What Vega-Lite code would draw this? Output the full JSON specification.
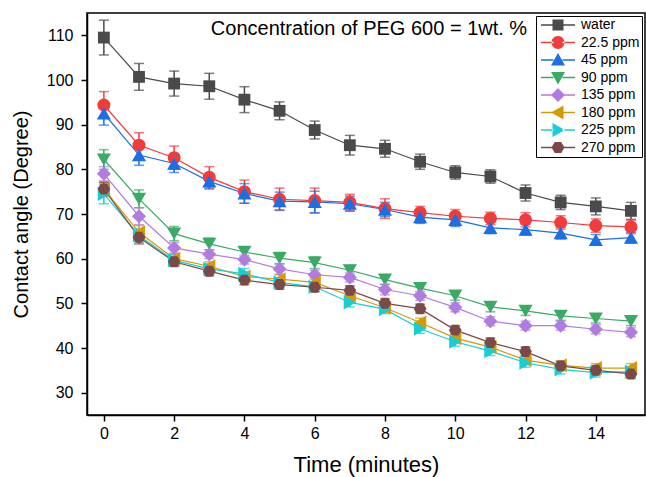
{
  "$schema": "https://vega.github.io/schema/vega-lite/v6.json",
  "width": 558,
  "height": 402,
  "autosize": {"type": "none"},
  "padding": {"left": 87, "top": 13, "right": 1, "bottom": 62},
  "background": "white",
  "title": {"text": "Concentration of PEG 600 = 1wt. %", "anchor": "middle", "orient": "top", "frame": "group", "offset": 0, "baseline": "alphabetic", "dy": 42, "dx": 3, "fontSize": 20, "fontWeight": "normal", "font": "Liberation Sans", "color": "black"},
  "data": {"values": [
    {"series":"water","t":0,"v":109.5,"e":3.9},{"series":"water","t":1,"v":100.7,"e":3.0},{"series":"water","t":2,"v":99.2,"e":2.8},{"series":"water","t":3,"v":98.6,"e":2.9},
    {"series":"water","t":4,"v":95.6,"e":2.9},{"series":"water","t":5,"v":93.1,"e":2.0},{"series":"water","t":6,"v":88.8,"e":2.0},{"series":"water","t":7,"v":85.4,"e":2.2},
    {"series":"water","t":8,"v":84.6,"e":1.9},{"series":"water","t":9,"v":81.7,"e":1.7},{"series":"water","t":10,"v":79.3,"e":1.5},{"series":"water","t":11,"v":78.4,"e":1.5},
    {"series":"water","t":12,"v":74.7,"e":1.8},{"series":"water","t":13,"v":72.6,"e":1.6},{"series":"water","t":14,"v":71.7,"e":1.9},{"series":"water","t":15,"v":70.7,"e":1.9},
    {"series":"22.5 ppm","t":0,"v":94.4,"e":3.0},{"series":"22.5 ppm","t":1,"v":85.4,"e":2.8},{"series":"22.5 ppm","t":2,"v":82.6,"e":2.6},{"series":"22.5 ppm","t":3,"v":78.2,"e":2.4},
    {"series":"22.5 ppm","t":4,"v":75.0,"e":2.6},{"series":"22.5 ppm","t":5,"v":73.3,"e":2.5},{"series":"22.5 ppm","t":6,"v":73.0,"e":2.8},{"series":"22.5 ppm","t":7,"v":72.6,"e":1.8},
    {"series":"22.5 ppm","t":8,"v":71.2,"e":2.2},{"series":"22.5 ppm","t":9,"v":70.3,"e":1.4},{"series":"22.5 ppm","t":10,"v":69.5,"e":1.5},{"series":"22.5 ppm","t":11,"v":69.0,"e":1.4},
    {"series":"22.5 ppm","t":12,"v":68.7,"e":1.6},{"series":"22.5 ppm","t":13,"v":68.1,"e":1.5},{"series":"22.5 ppm","t":14,"v":67.4,"e":1.5},{"series":"22.5 ppm","t":15,"v":67.1,"e":1.5},
    {"series":"45 ppm","t":0,"v":92.5,"e":2.6},{"series":"45 ppm","t":1,"v":83.2,"e":2.3},{"series":"45 ppm","t":2,"v":81.3,"e":2.0},{"series":"45 ppm","t":3,"v":77.3,"e":1.7},
    {"series":"45 ppm","t":4,"v":74.6,"e":2.2},{"series":"45 ppm","t":5,"v":72.9,"e":2.0},{"series":"45 ppm","t":6,"v":72.7,"e":2.4},{"series":"45 ppm","t":7,"v":72.3,"e":1.7},
    {"series":"45 ppm","t":8,"v":71.0,"e":1.6},{"series":"45 ppm","t":9,"v":69.3,"e":1.4},{"series":"45 ppm","t":10,"v":68.7,"e":1.5},{"series":"45 ppm","t":11,"v":66.9,"e":1.3},
    {"series":"45 ppm","t":12,"v":66.5,"e":1.2},{"series":"45 ppm","t":13,"v":65.7,"e":1.3},{"series":"45 ppm","t":14,"v":64.2,"e":1.2},{"series":"45 ppm","t":15,"v":64.7,"e":1.2},
    {"series":"90 ppm","t":0,"v":82.2,"e":2.2},{"series":"90 ppm","t":1,"v":73.4,"e":2.0},{"series":"90 ppm","t":2,"v":65.6,"e":1.6},{"series":"90 ppm","t":3,"v":63.3,"e":1.3},
    {"series":"90 ppm","t":4,"v":61.5,"e":1.1},{"series":"90 ppm","t":5,"v":60.1,"e":1.3},{"series":"90 ppm","t":6,"v":59.1,"e":1.3},{"series":"90 ppm","t":7,"v":57.4,"e":1.1},
    {"series":"90 ppm","t":8,"v":55.3,"e":1.1},{"series":"90 ppm","t":9,"v":53.4,"e":1.2},{"series":"90 ppm","t":10,"v":51.7,"e":1.0},{"series":"90 ppm","t":11,"v":49.2,"e":1.1},
    {"series":"90 ppm","t":12,"v":48.3,"e":1.0},{"series":"90 ppm","t":13,"v":47.2,"e":1.0},{"series":"90 ppm","t":14,"v":46.6,"e":1.0},{"series":"90 ppm","t":15,"v":46.0,"e":1.0},
    {"series":"135 ppm","t":0,"v":79.0,"e":1.6},{"series":"135 ppm","t":1,"v":69.5,"e":1.9},{"series":"135 ppm","t":2,"v":62.4,"e":1.2},{"series":"135 ppm","t":3,"v":61.0,"e":1.0},
    {"series":"135 ppm","t":4,"v":59.8,"e":1.0},{"series":"135 ppm","t":5,"v":57.7,"e":1.2},{"series":"135 ppm","t":6,"v":56.4,"e":1.0},{"series":"135 ppm","t":7,"v":55.8,"e":1.0},
    {"series":"135 ppm","t":8,"v":53.1,"e":1.2},{"series":"135 ppm","t":9,"v":51.7,"e":1.0},{"series":"135 ppm","t":10,"v":49.1,"e":1.0},{"series":"135 ppm","t":11,"v":46.0,"e":1.0},
    {"series":"135 ppm","t":12,"v":45.0,"e":1.0},{"series":"135 ppm","t":13,"v":45.0,"e":1.0},{"series":"135 ppm","t":14,"v":44.2,"e":1.0},{"series":"135 ppm","t":15,"v":43.5,"e":1.0},
    {"series":"180 ppm","t":0,"v":75.6,"e":1.5},{"series":"180 ppm","t":1,"v":65.9,"e":1.5},{"series":"180 ppm","t":2,"v":60.0,"e":1.0},{"series":"180 ppm","t":3,"v":58.3,"e":1.0},
    {"series":"180 ppm","t":4,"v":56.0,"e":1.0},{"series":"180 ppm","t":5,"v":55.4,"e":1.0},{"series":"180 ppm","t":6,"v":54.7,"e":1.0},{"series":"180 ppm","t":7,"v":51.7,"e":1.0},
    {"series":"180 ppm","t":8,"v":49.0,"e":1.0},{"series":"180 ppm","t":9,"v":45.7,"e":1.0},{"series":"180 ppm","t":10,"v":42.2,"e":1.0},{"series":"180 ppm","t":11,"v":40.2,"e":1.0},
    {"series":"180 ppm","t":12,"v":37.3,"e":1.0},{"series":"180 ppm","t":13,"v":36.1,"e":1.0},{"series":"180 ppm","t":14,"v":35.5,"e":1.0},{"series":"180 ppm","t":15,"v":35.5,"e":1.0},
    {"series":"225 ppm","t":0,"v":74.5,"e":2.2},{"series":"225 ppm","t":1,"v":65.2,"e":1.5},{"series":"225 ppm","t":2,"v":59.6,"e":1.3},{"series":"225 ppm","t":3,"v":57.7,"e":1.2},
    {"series":"225 ppm","t":4,"v":56.6,"e":1.2},{"series":"225 ppm","t":5,"v":54.7,"e":1.0},{"series":"225 ppm","t":6,"v":53.7,"e":1.0},{"series":"225 ppm","t":7,"v":50.2,"e":1.0},
    {"series":"225 ppm","t":8,"v":48.7,"e":1.0},{"series":"225 ppm","t":9,"v":44.3,"e":1.0},{"series":"225 ppm","t":10,"v":41.4,"e":1.0},{"series":"225 ppm","t":11,"v":39.3,"e":1.0},
    {"series":"225 ppm","t":12,"v":36.7,"e":1.0},{"series":"225 ppm","t":13,"v":35.2,"e":1.0},{"series":"225 ppm","t":14,"v":34.5,"e":1.0},{"series":"225 ppm","t":15,"v":34.7,"e":1.0},
    {"series":"270 ppm","t":0,"v":75.6,"e":1.5},{"series":"270 ppm","t":1,"v":64.8,"e":1.5},{"series":"270 ppm","t":2,"v":59.3,"e":1.0},{"series":"270 ppm","t":3,"v":57.2,"e":1.0},
    {"series":"270 ppm","t":4,"v":55.2,"e":1.0},{"series":"270 ppm","t":5,"v":54.2,"e":1.0},{"series":"270 ppm","t":6,"v":53.6,"e":1.0},{"series":"270 ppm","t":7,"v":52.9,"e":1.0},
    {"series":"270 ppm","t":8,"v":50.0,"e":1.0},{"series":"270 ppm","t":9,"v":48.8,"e":1.0},{"series":"270 ppm","t":10,"v":44.0,"e":1.0},{"series":"270 ppm","t":11,"v":41.2,"e":1.0},
    {"series":"270 ppm","t":12,"v":39.2,"e":1.0},{"series":"270 ppm","t":13,"v":36.0,"e":1.0},{"series":"270 ppm","t":14,"v":35.0,"e":1.0},{"series":"270 ppm","t":15,"v":34.2,"e":1.0}
  ]},
  "encoding": {
    "x": {"field": "t", "type": "quantitative", "scale": {"domain": [-0.48, 15.4], "nice": false, "zero": false},
      "axis": {"values": [0, 2, 4, 6, 8, 10, 12, 14], "title": "Time (minutes)", "titlePadding": 13, "titleFontSize": 22, "labelPadding": 4}},
    "y": {"field": "v", "type": "quantitative", "scale": {"domain": [25, 115], "nice": false, "zero": false},
      "axis": {"values": [30, 40, 50, 60, 70, 80, 90, 100, 110], "title": "Contact angle (Degree)", "titlePadding": 15, "titleFontSize": 20, "labelPadding": 8}}
  },
  "layer": [
    {"mark": {"type": "line", "strokeWidth": 1.2},
     "encoding": {"color": {"field": "series", "type": "nominal", "legend": null,
       "scale": {"range": ["#b07ce0", "#d49a08", "#f03c3c", "#18cdd6", "#7b4a48", "#1a6ee6", "#3aaa64", "#4a4a4a"]}}}},
    {"mark": {"type": "errorbar", "ticks": {"size": 10}, "thickness": 1.5},
     "encoding": {"yError": {"field": "e"}, "color": {"field": "series", "type": "nominal", "legend": null}}},
    {"transform": [{"filter": {"field": "series", "equal": "water"}}], "mark": {"type": "point", "filled": true, "opacity": 1, "shape": "square", "size": 140}, "encoding": {"color": {"field": "series", "type": "nominal", "legend": null}}},
    {"transform": [{"filter": {"field": "series", "equal": "22.5 ppm"}}], "mark": {"type": "point", "filled": true, "opacity": 1, "shape": "circle", "size": 170}, "encoding": {"color": {"field": "series", "type": "nominal", "legend": null}}},
    {"transform": [{"filter": {"field": "series", "equal": "45 ppm"}}], "mark": {"type": "point", "filled": true, "opacity": 1, "shape": "triangle-up", "size": 200}, "encoding": {"color": {"field": "series", "type": "nominal", "legend": null}}},
    {"transform": [{"filter": {"field": "series", "equal": "90 ppm"}}], "mark": {"type": "point", "filled": true, "opacity": 1, "shape": "triangle-down", "size": 200}, "encoding": {"color": {"field": "series", "type": "nominal", "legend": null}}},
    {"transform": [{"filter": {"field": "series", "equal": "135 ppm"}}], "mark": {"type": "point", "filled": true, "opacity": 1, "shape": "diamond", "size": 200}, "encoding": {"color": {"field": "series", "type": "nominal", "legend": null}}},
    {"transform": [{"filter": {"field": "series", "equal": "180 ppm"}}], "mark": {"type": "point", "filled": true, "opacity": 1, "shape": "triangle-left", "size": 200}, "encoding": {"color": {"field": "series", "type": "nominal", "legend": null}}},
    {"transform": [{"filter": {"field": "series", "equal": "225 ppm"}}], "mark": {"type": "point", "filled": true, "opacity": 1, "shape": "triangle-right", "size": 200}, "encoding": {"color": {"field": "series", "type": "nominal", "legend": null}}},
    {"transform": [{"filter": {"field": "series", "equal": "270 ppm"}}], "mark": {"type": "point", "filled": true, "opacity": 1, "shape": "M-1,0L-0.5,-0.866L0.5,-0.866L1,0L0.5,0.866L-0.5,0.866Z", "size": 160}, "encoding": {"color": {"field": "series", "type": "nominal", "legend": null}}},
    {"transform": [{"filter": {"field": "t", "equal": -1}}],
     "mark": {"type": "point", "filled": true, "opacity": 1},
     "encoding": {
       "fill": {"field": "series", "type": "nominal",
         "scale": {"domain": ["water", "22.5 ppm", "45 ppm", "90 ppm", "135 ppm", "180 ppm", "225 ppm", "270 ppm"],
                   "range": ["#4a4a4a", "#f03c3c", "#1a6ee6", "#3aaa64", "#b07ce0", "#d49a08", "#18cdd6", "#7b4a48"]},
         "legend": {"title": null}},
       "shape": {"field": "series", "type": "nominal",
         "scale": {"domain": ["water", "22.5 ppm", "45 ppm", "90 ppm", "135 ppm", "180 ppm", "225 ppm", "270 ppm"],
                   "range": [
                     "M-0.8,-0.15H1.7V0.15H-0.8ZM3.5,-0.15H6V0.15H3.5ZM1.5,-1.1H3.7V1.1H1.5Z",
                     "M-0.8,-0.15H1.7V0.15H-0.8ZM3.5,-0.15H6V0.15H3.5ZM1.3,0A1.3,1.3 0 1,0 3.9,0A1.3,1.3 0 1,0 1.3,0Z",
                     "M-0.8,-0.15H1.7V0.15H-0.8ZM3.5,-0.15H6V0.15H3.5ZM2.6,-1.4L4,1.1L1.2,1.1Z",
                     "M-0.8,-0.15H1.7V0.15H-0.8ZM3.5,-0.15H6V0.15H3.5ZM2.6,1.4L4,-1.1L1.2,-1.1Z",
                     "M-0.8,-0.15H1.7V0.15H-0.8ZM3.5,-0.15H6V0.15H3.5ZM2.6,-1.4L4,0L2.6,1.4L1.2,0Z",
                     "M-0.8,-0.15H1.7V0.15H-0.8ZM3.5,-0.15H6V0.15H3.5ZM1.2,0L3.7,-1.4L3.7,1.4Z",
                     "M-0.8,-0.15H1.7V0.15H-0.8ZM3.5,-0.15H6V0.15H3.5ZM4,0L1.5,-1.4L1.5,1.4Z",
                     "M-0.8,-0.15H1.7V0.15H-0.8ZM3.5,-0.15H6V0.15H3.5ZM1.3,0L1.95,-1.1L3.25,-1.1L3.9,0L3.25,1.1L1.95,1.1Z"
                   ]},
         "legend": {"title": null}}
     }}
  ],
  "config": {
    "font": "Liberation Sans",
    "view": {"stroke": "black", "strokeWidth": 1.5},
    "axis": {"grid": false, "domainColor": "black", "domainWidth": 1.5, "tickColor": "black", "tickWidth": 1.5, "tickSize": 6,
             "labelFont": "Liberation Sans", "labelFontSize": 16, "labelColor": "black",
             "titleFont": "Liberation Sans", "titleFontWeight": "normal", "titleColor": "black"},
    "legend": {"orient": "top-right", "offset": 3, "padding": 2, "strokeColor": "black", "strokeWidth": 1, "fillColor": "white",
               "labelFont": "Liberation Sans", "labelFontSize": 14, "labelColor": "black", "symbolSize": 100, "symbolStrokeWidth": 0,
               "labelOffset": 29, "rowPadding": 3.5, "symbolOpacity": 1}
  }
}
